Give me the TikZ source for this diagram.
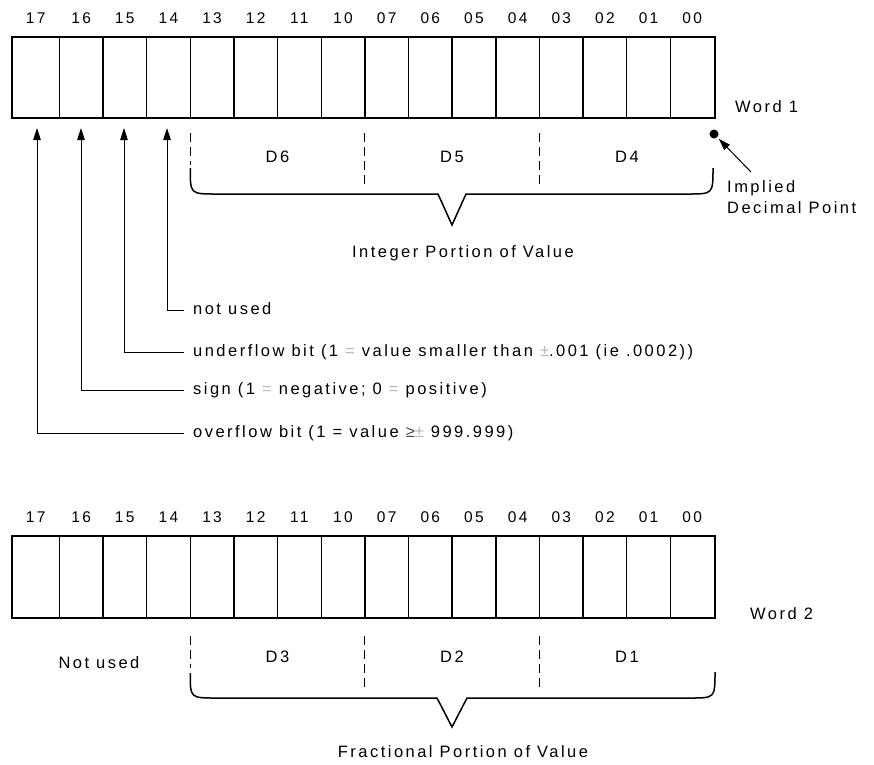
\documentclass[tikz,border=0pt]{standalone}
\usepackage{fontspec}
\setmainfont{Liberation Sans}[LetterSpace=15]
\usetikzlibrary{arrows.meta}
\definecolor{faint}{gray}{0.72}
\begin{document}
\begin{tikzpicture}[x=1pt,y=-1pt,
  font=\fontsize{16.5}{19}\selectfont,
  box/.style={line width=1.8pt},
  div/.style={line width=1.4pt},
  dashline/.style={line width=1.2pt, dash pattern=on 9pt off 5pt},
  brace/.style={line width=1.5pt, line join=miter},
  ptr/.style={line width=1pt, -{Triangle[length=12pt,width=7.5pt]}},
  lbl/.style={inner sep=0pt, anchor=west, text height=11.5pt, text depth=3.5pt},
  bit/.style={inner sep=0pt, font=\fontsize{15.5}{18}\selectfont},
  txt/.style={inner sep=0pt}
]
\useasboundingbox (0,0) rectangle (874,764);

% ---------- boxes ----------
\draw[box] (12,37) rectangle (715,118);
\draw[box] (12,536) rectangle (715,618);
\foreach \k in {1,...,15} {
  \draw[div] ({59.3+43.65*(\k-1)},37) -- ({59.3+43.65*(\k-1)},118);
  \draw[div] ({59.3+43.65*(\k-1)},536) -- ({59.3+43.65*(\k-1)},618);
}
\foreach \lab [count=\k from 0] in {17,16,15,14,13,12,11,10,07,06,05,04,03,02,01,00} {
  \pgfmathsetmacro{\cx}{\k==0 ? 35.65 : 59.3+43.65*(\k-0.5)}
  \node[bit] (wa\lab) at (\cx,18) {\lab};
  \node[bit] (wb\lab) at (\cx,517) {\lab};
}

% ---------- Word 1 ----------
\node[lbl] (w1) at (735,108) {Word 1};

% implied decimal point
\node[circle, fill=black, inner sep=0pt, minimum size=9pt] (dot) at (714,134) {};
\coordinate (dptail) at (751,172);
\draw[ptr, shorten >=2pt] (dptail) -- (dot);
\node[inner sep=0pt, anchor=west, align=left, font=\fontsize{16.5}{21}\selectfont] (idp) at (727,197) {Implied\\Decimal Point};

% digit groups word 1
\draw[dashline] (190.25,133) -- (190.25,165);
\draw[dashline] (364.85,133) -- (364.85,187);
\draw[dashline] (539.45,133) -- (539.45,187);
\node[txt] (d6) at (277.5,157) {D6};
\node[txt] (d5) at (452,157) {D5};
\node[txt] (d4) at (627,157) {D4};
\draw[brace] (190.25,168) .. controls (190.25,194) .. (216,194) -- (438,194) -- (452,225) -- (466,194) -- (688,194) .. controls (713,194) .. (713,168);
\node[txt] (int) at (463,253) {Integer Portion of Value};

% bit pointers
\coordinate (a17) at (37,128);
\coordinate (a16) at (81,128);
\coordinate (a15) at (124,128);
\coordinate (a14) at (167,128);
\node[lbl] (t14) at (193,310) {not used};
\node[lbl] (t15) at (193,352) {underflow bit (1 {\color{faint}=} value smaller than {\color{faint}±}.001 (ie .0002))};
\node[lbl] (t16) at (193,390) {sign (1 {\color{faint}=} negative; 0 {\color{faint}=} positive)};
\node[lbl] (t17) at (193,433) {overflow bit (1 = value {\color{black!70}≥}{\color{faint}±} 999.999)};
\draw[ptr] ([xshift=-9pt]t14.west) -| (a14);
\draw[ptr] ([xshift=-9pt]t15.west) -| (a15);
\draw[ptr] ([xshift=-9pt]t16.west) -| (a16);
\draw[ptr] ([xshift=-9pt]t17.west) -| (a17);

% ---------- Word 2 ----------
\node[lbl] (w2) at (750,615) {Word 2};
\node[txt] (nu2) at (99,663) {Not used};
\draw[dashline] (190.25,636) -- (190.25,668);
\draw[dashline] (364.85,636) -- (364.85,690);
\draw[dashline] (539.45,636) -- (539.45,690);
\node[txt] (d3) at (277.5,657) {D3};
\node[txt] (d2) at (452,657) {D2};
\node[txt] (d1) at (627,657) {D1};
\draw[brace] (190.25,673) .. controls (190.25,698) .. (216,698) -- (437,698) -- (452,727) -- (467,698) -- (690,698) .. controls (715,698) .. (715,672);
\node[txt] (frac) at (463,752) {Fractional Portion of Value};
\end{tikzpicture}
\end{document}
